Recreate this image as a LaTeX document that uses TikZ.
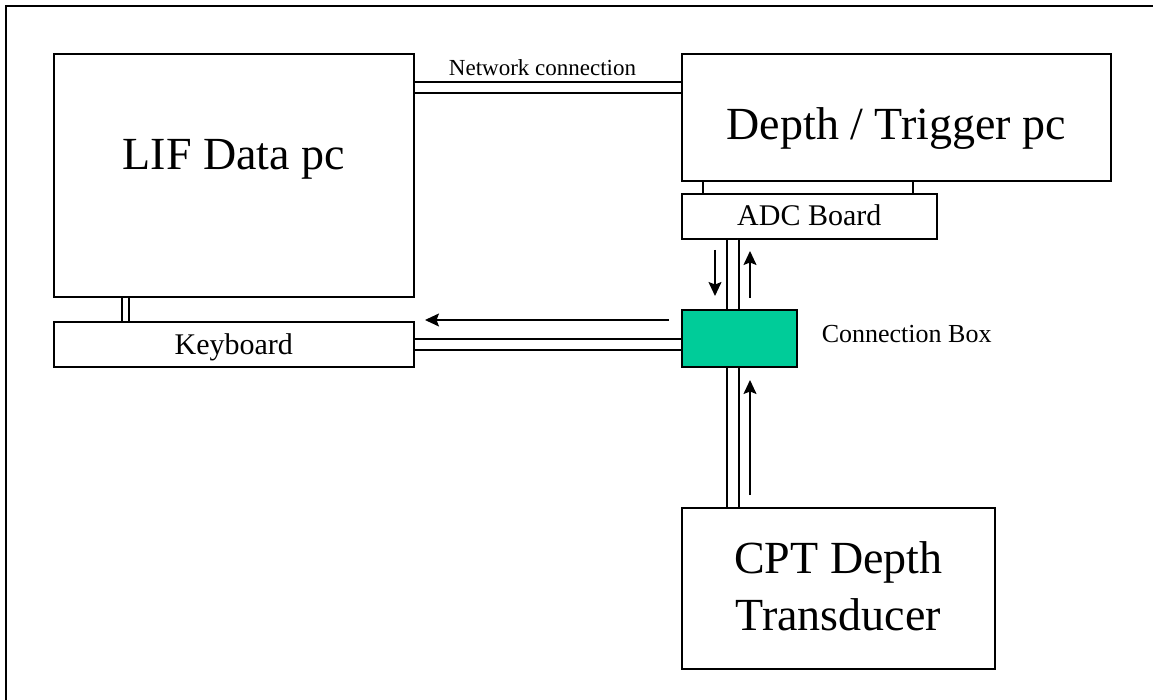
\documentclass[tikz,border=0pt]{standalone}
\usepackage{fontspec}
\setmainfont{Liberation Serif}
\usetikzlibrary{arrows.meta,calc}
\definecolor{cbgreen}{RGB}{0,204,153}
\begin{document}
\begin{tikzpicture}[x=1pt,y=-1pt,
  box/.style={draw, line width=1.6pt, rectangle, inner sep=0pt, anchor=north west},
  dbl/.style={draw, double, line width=1.6pt, double distance=#1},
  conn/.style={line width=1.6pt},
  arr/.style={line width=1.6pt, -{Stealth[length=14pt,width=13pt,inset=2.5pt]}},
  big/.style={font=\fontsize{46}{55}\selectfont, inner sep=0pt, anchor=base},
  mid/.style={font=\fontsize{30}{36}\selectfont, inner sep=0pt, anchor=base}]
\useasboundingbox (0,0) rectangle (1153,700);
% outer frame
\draw[line width=2pt] (6,700) -- (6,6) -- (1153,6);
% boxes
\node[box, minimum width=360pt, minimum height=243pt] (lif) at (53,53) {};
\node[box, minimum width=429pt, minimum height=127pt] (depth) at (681,53) {};
\node[box, minimum width=255pt, minimum height=45pt] (adc) at (681,193) {};
\node[box, minimum width=360pt, minimum height=45pt] (kb) at (53,321) {};
\node[box, fill=cbgreen, minimum width=115pt, minimum height=57pt] (cb) at (681,309) {};
\node[box, minimum width=313pt, minimum height=161pt] (cpt) at (681,507) {};
% connectors
\draw[dbl=9.4pt] ($(lif.north east)+(0,34.5)$) -- ($(depth.north west)+(0,34.5)$);
\draw[dbl=5.4pt] ($(lif.south west)+(72.5,0)$) -- ($(kb.north west)+(72.5,0)$);
\draw[dbl=9.4pt] (kb.east) -- (kb.east -| cb.west);
\draw[dbl=10.4pt] ($(adc.south west)+(52,0)$) -- ($(cb.north west)+(52,0)$);
\draw[dbl=10.4pt] ($(cb.south west)+(52,0)$) -- ($(cpt.north west)+(52,0)$);
\draw[conn] ($(depth.south west)+(22,0)$) -- ($(adc.north west)+(22,0)$);
\draw[conn] ($(depth.south west)+(232,0)$) -- ($(adc.north west)+(232,0)$);
% arrows
\coordinate (a1s) at (669,320); \coordinate (a1e) at (425,320);
\coordinate (a2s) at (715,250); \coordinate (a2e) at (715,296);
\coordinate (a3s) at (750,298); \coordinate (a3e) at (750,251);
\coordinate (a4s) at (750,495); \coordinate (a4e) at (750,380);
\draw[arr] (a1s) -- (a1e);
\draw[arr] (a2s) -- (a2e);
\draw[arr] (a3s) -- (a3e);
\draw[arr] (a4s) -- (a4e);
% labels
\node[big] (lifl) at ($(lif.center)+(0,-5.5)$) {LIF Data pc};
\node[big] (depthl) at ($(depth.center)+(0,22)$) {Depth / Trigger pc};
\node[big] (cpt1) at ($(cpt.center)+(0,-14.5)$) {CPT Depth};
\node[big] (cpt2) at ($(cpt.center)+(0,42.5)$) {Transducer};
\node[mid] (kbl) at ($(kb.center)+(0,10)$) {Keyboard};
\node[mid] (adcl) at ($(adc.center)+(0,9.5)$) {ADC Board};
\node[font=\fontsize{26}{31}\selectfont, inner sep=0pt, anchor=base west] (cbl) at ($(cb.east)+(24,4.5)$) {Connection Box};
\node[font=\fontsize{23}{28}\selectfont, inner sep=0pt, anchor=base] (netl) at (542.5,76) {Network connection};
\end{tikzpicture}
\end{document}
